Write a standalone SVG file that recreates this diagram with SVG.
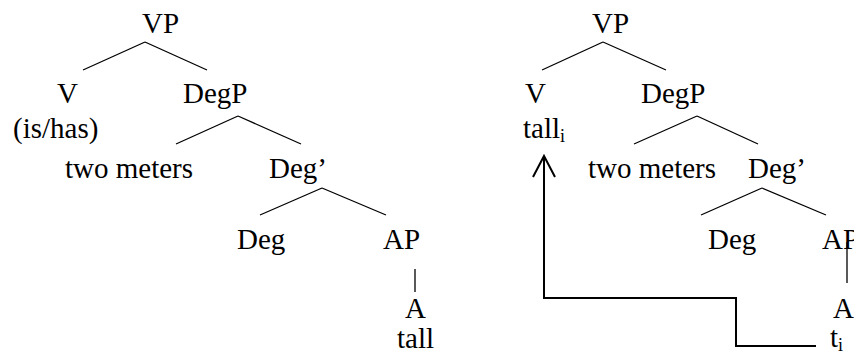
<svg xmlns="http://www.w3.org/2000/svg" width="854" height="354" viewBox="0 0 854 354">
<style>
  text { font-family: 'Liberation Serif', 'Times New Roman', Tinos, 'DejaVu Serif', serif; font-size: 29px; fill: #000; }
  .sub { font-size: 18px; }
  .edge { stroke: #000; stroke-width: 1.3; fill: none; }
  .move { stroke: #000; stroke-width: 2; fill: none; }
</style>
<defs>
  <marker id="openArrow" markerUnits="userSpaceOnUse" orient="auto" refX="0" refY="0" markerWidth="30" markerHeight="30" overflow="visible">
    <path d="M -21 -11 L 0 0 L -21 11" fill="none" stroke="#000" stroke-width="2"/>
  </marker>
</defs>
<rect width="854" height="354" fill="#fff"/>
<g id="connectors">
  <line class="edge" x1="145" y1="42" x2="83" y2="70"/>
  <line class="edge" x1="145" y1="42" x2="207" y2="70"/>
  <line class="edge" x1="238" y1="116" x2="176" y2="144"/>
  <line class="edge" x1="238" y1="116" x2="301" y2="144"/>
  <line class="edge" x1="322" y1="188" x2="260" y2="215"/>
  <line class="edge" x1="322" y1="188" x2="386" y2="215"/>
  <line class="edge" x1="415" y1="269" x2="415" y2="292"/>
  <line class="edge" x1="603" y1="42" x2="542" y2="70"/>
  <line class="edge" x1="603" y1="42" x2="666" y2="70"/>
  <line class="edge" x1="697" y1="116" x2="634" y2="144"/>
  <line class="edge" x1="697" y1="116" x2="758" y2="144"/>
  <line class="edge" x1="762" y1="188" x2="701" y2="215"/>
  <line class="edge" x1="762" y1="188" x2="826" y2="215"/>
  <line class="edge" x1="847" y1="242" x2="847" y2="283"/>
  <path class="move" d="M 816 346 H 736 V 298 H 544 V 156" marker-end="url(#openArrow)"/>
</g>
<g font-family="Liberation Serif, serif">
<g id="L-VP"><text x="142" y="33">VP</text></g>
<g id="L-V"><text x="57" y="103">V</text><text x="13" y="138">(is/has)</text></g>
<g id="L-DegP"><text x="183" y="103">DegP</text></g>
<g id="L-twometers"><text x="65" y="178">two meters</text></g>
<g id="L-DegBar"><text x="269" y="178">Deg’</text></g>
<g id="L-Deg"><text x="237" y="249">Deg</text></g>
<g id="L-AP"><text x="383" y="249">AP</text></g>
<g id="L-A"><text x="405" y="318">A</text><text x="397" y="348">tall</text></g>
<g id="R-VP"><text x="592" y="33">VP</text></g>
<g id="R-V"><text x="525" y="103">V</text><text x="523" y="138">tall<tspan class="sub" dy="4">i</tspan></text></g>
<g id="R-DegP"><text x="641" y="103">DegP</text></g>
<g id="R-twometers"><text x="588" y="178">two meters</text></g>
<g id="R-DegBar"><text x="748" y="178">Deg’</text></g>
<g id="R-Deg"><text x="708" y="249">Deg</text></g>
<g id="R-AP"><text x="822" y="249">AP</text></g>
<g id="R-A"><text x="833" y="318">A</text><text x="830" y="347">t<tspan class="sub" dy="4">i</tspan></text></g>
</g>
</svg>
